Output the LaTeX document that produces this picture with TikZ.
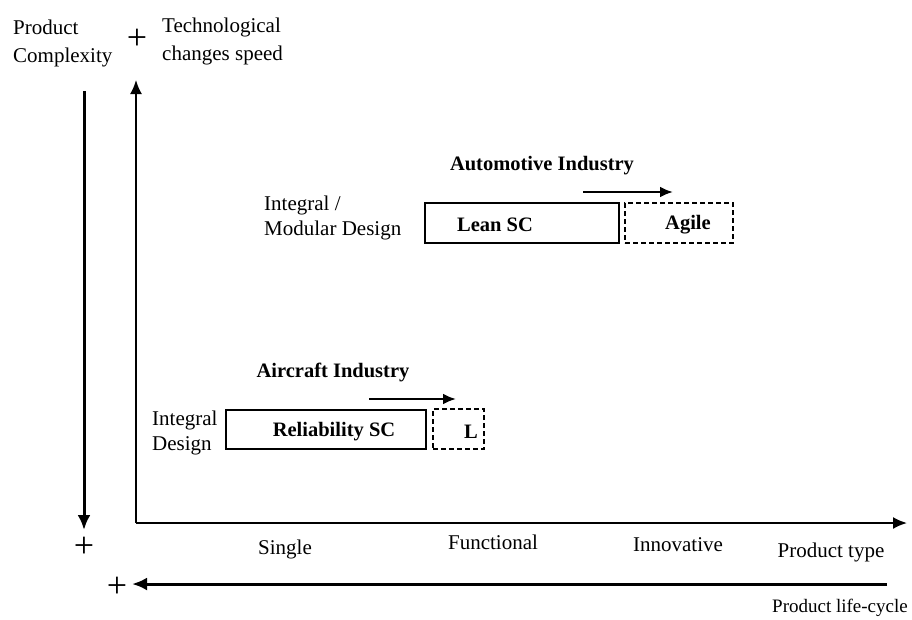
\documentclass[tikz,border=0pt]{standalone}
\usepackage{fontspec}
\setmainfont{Liberation Serif}
\usetikzlibrary{arrows.meta}
\begin{document}
\begin{tikzpicture}[x=1pt,y=-1pt,
  txt/.style={inner sep=0pt,font=\fontsize{21}{25}\selectfont},
  toptxt/.style={inner sep=0pt,align=left,anchor=west,font=\fontsize{21}{28}\selectfont},
  btxt/.style={inner sep=0pt,font=\fontsize{20.5}{25}\selectfont\bfseries},
  plus/.style={inner sep=0pt,font=\fontsize{36}{36}\selectfont},
  axis/.style={line width=2pt,-{Latex[length=14pt,width=12pt]}},
  thick arrow/.style={line width=3pt,-{Latex[length=15pt,width=13pt]}},
  small arrow/.style={line width=2.4pt,-{Latex[length=13pt,width=11pt]}},
  sbox/.style={draw,line width=2pt,inner sep=0pt},
  dbox/.style={draw,line width=2pt,dashed,dash pattern=on 5pt off 3pt,inner sep=0pt}]
\useasboundingbox (0,0) rectangle (912,619);

% top labels
\node[toptxt] (pc) at (13,43) {Product\\Complexity};
\node[plus] (p1) at (137,39) {+};
\node[toptxt] (tc) at (162,41) {Technological\\changes speed};

% axes
\coordinate (o) at (136,523);
\coordinate (ytop) at (136,80);
\coordinate (xend) at (907,523);
\draw[axis] (o) -- (ytop);
\draw[axis] (o) -- (xend);

% product complexity arrow
\coordinate (lc1) at (84,91);
\coordinate (lc2) at (84,530);
\draw[thick arrow] (lc1) -- (lc2);
\node[plus] (p2) at (84,547) {+};

% life-cycle arrow
\coordinate (lf1) at (887,584);
\coordinate (lf2) at (132,584);
\draw[thick arrow] (lf1) -- (lf2);
\node[plus] (p3) at (117,587) {+};

% axis labels
\node[txt] (single) at (285,549) {Single};
\node[txt] (func) at (493,542) {Functional};
\node[txt] (innov) at (678,545) {Innovative};
\node[txt] (ptype) at (831,552) {Product type};
\node[txt,anchor=east,font=\fontsize{19}{23}\selectfont] (plife) at (908,608) {Product life-cycle};

% automotive
\node[btxt] (auto) at (542,166) {Automotive Industry};
\coordinate (aa1) at (583,192);
\coordinate (aa2) at (673,192);
\draw[small arrow] (aa1) -- (aa2);
\node[toptxt,font=\fontsize{21}{25}\selectfont] (imd) at (264,218) {Integral /\\Modular Design};
\node[sbox,minimum width=194pt,minimum height=40pt] (lean) at (522,223) {};
\node[dbox,minimum width=108pt,minimum height=40pt] (agile) at (679,223) {};
\node[btxt] (leant) at (495,225) {Lean SC};
\node[btxt] (agilet) at (688,225) {Agile};

% aircraft
\node[btxt] (air) at (333,372) {Aircraft Industry};
\coordinate (ra1) at (369,399);
\coordinate (ra2) at (456,399);
\draw[small arrow] (ra1) -- (ra2);
\node[toptxt,font=\fontsize{21}{25}\selectfont] (id) at (152,433) {Integral\\Design};
\node[sbox,minimum width=200pt,minimum height=39pt] (rel) at (326,429.5) {};
\node[dbox,minimum width=51pt,minimum height=40pt] (lbox) at (458.5,429) {};
\node[btxt] (relt) at (334,432) {Reliability SC};
\node[btxt] (lt) at (471,432) {L};
\end{tikzpicture}
\end{document}
